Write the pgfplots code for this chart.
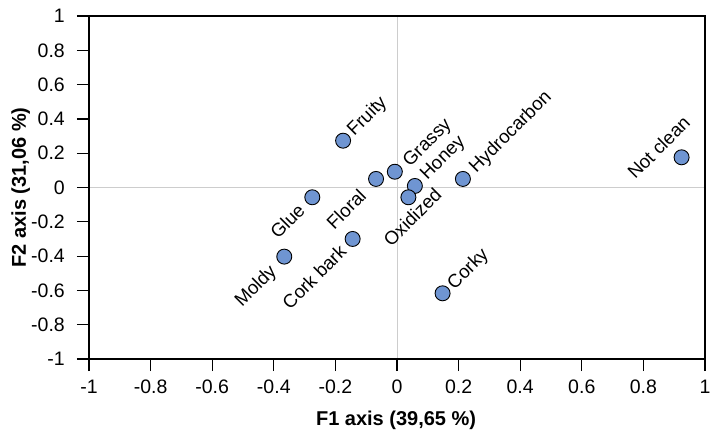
\documentclass[border=0pt]{standalone}
\usepackage{fontspec}
\setmainfont{Liberation Sans}
\usepackage{pgfplots}
\usepackage{pgfplotstable}
\pgfplotsset{compat=1.18}
\definecolor{ptblue}{RGB}{111,149,210}
\definecolor{zeroline}{RGB}{205,205,205}

\pgfplotstableread[col sep=comma, row sep=\\]{
x,y,dx,dy,label\\
-0.175,0.273,24.5,24,Fruity\\
-0.007,0.092,33,28.5,Grassy\\
-0.068,0.050,-30,-30,Floral\\
0.058,0.009,28.5,27.5,Honey\\
0.037,-0.057,4,-20,Oxidized\\
0.214,0.050,48,46.5,Hydrocarbon\\
-0.275,-0.057,-25,-24,Glue\\
-0.144,-0.300,-38.5,-38,Cork bark\\
-0.366,-0.403,-28,-30,Moldy\\
0.148,-0.617,26,24,Corky\\
0.924,0.176,-23,10,Not clean\\
}\pts

\begin{document}
\begin{tikzpicture}
\path[use as bounding box] (0,0) rectangle (721pt,432pt);
\begin{axis}[
  at={(89pt,73pt)}, anchor=south west,
  scale only axis, width=616pt, height=343pt,
  xmin=-1, xmax=1, ymin=-1, ymax=1,
  xtick={-1,-0.8,-0.6,-0.4,-0.2,0,0.2,0.4,0.6,0.8,1},
  ytick={-1,-0.8,-0.6,-0.4,-0.2,0,0.2,0.4,0.6,0.8,1},
  xtick pos=bottom, ytick pos=left,
  tick align=outside,
  major tick length=12pt,
  tick style={black, line width=1.2pt},
  axis line style={black, line width=1.6pt},
  axis on top,
  clip=false,
  /pgf/number format/assume math mode=true,
  tick label style={font=\fontsize{19.5}{23}\selectfont},
  yticklabel style={inner xsep=12pt, inner ysep=1pt},
  xticklabel style={inner xsep=1pt, inner ysep=9pt},
  xlabel={F1 axis (39,65 \%)},
  ylabel={F2 axis (31,06 \%)},
  xlabel style={font=\bfseries\fontsize{20}{24}\selectfont, at={(axis cs:-0.003,-1.385)}, anchor=base},
  ylabel style={font=\bfseries\fontsize{20}{24}\selectfont, at={(axis cs:-1.205,0)}, anchor=base},
]
\draw[zeroline, line width=1pt] (axis cs:-1,0) -- (axis cs:1,0);
\draw[zeroline, line width=1pt] (axis cs:0,-1) -- (axis cs:0,1);
\addplot[
  only marks,
  mark=*,
  mark size=7.5pt,
  mark options={fill=ptblue, draw=black, line width=0.9pt},
  point meta=explicit symbolic,
  visualization depends on={\thisrow{dx} \as \lblx},
  visualization depends on={\thisrow{dy} \as \lbly},
  nodes near coords={\pgfplotspointmeta},
  nodes near coords style={xshift=\lblx pt, yshift=\lbly pt, rotate=45, anchor=center, inner sep=0pt, black, font=\fontsize{18.7}{22}\selectfont},
] table[x=x, y=y, meta=label] {\pts};
\end{axis}
\end{tikzpicture}
\end{document}
